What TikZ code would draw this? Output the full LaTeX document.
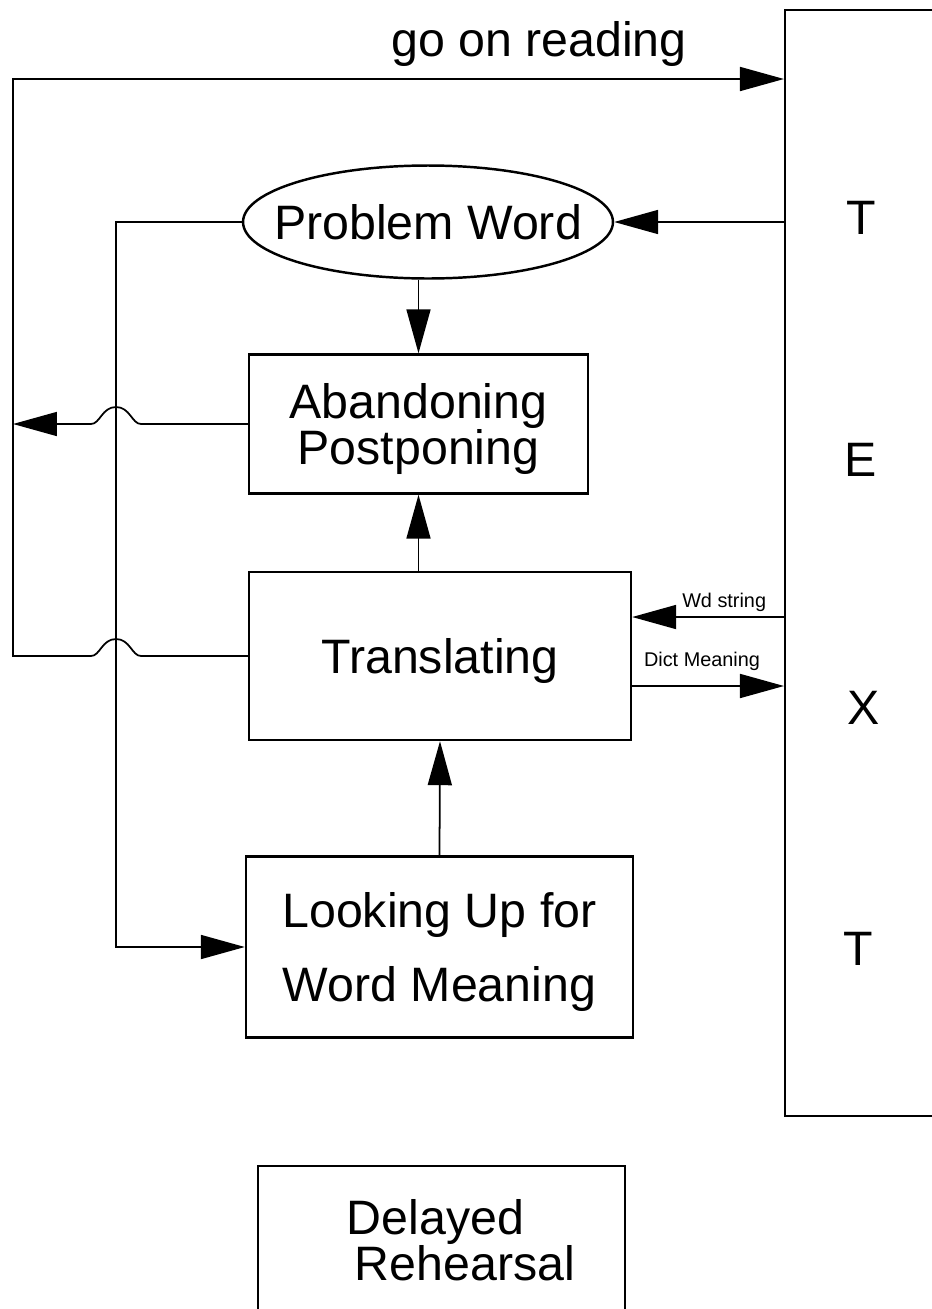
\documentclass[tikz,border=0pt]{standalone}
\usepackage{fontspec}
\setmainfont{Liberation Sans}
\usetikzlibrary{
  arrows.meta,
  positioning,
  shapes.geometric,
}

\begin{document}
\begin{tikzpicture}[
  x=0.02cm, y=-0.02cm,
  font=\fontsize{27.5}{33}\selectfont,
  stage/.style={draw, line width=1.4pt, inner sep=0pt, align=center, text depth=0pt},
  arr/.style={line width=1pt, -{Triangle[length=0.88cm, width=0.48cm]}},
  tag/.style={font=\fontsize{11.3}{13}\selectfont, inner sep=0pt},
  letter/.style={inner sep=0pt},
  hopover/.style={to path={-- ([xshift=0.5cm]\tikztotarget)
      .. controls +(-0.18cm,0) and +(0.28cm,0) .. ([yshift=0.34cm]\tikztotarget)
      .. controls +(-0.28cm,0) and +(0.18cm,0) .. ([xshift=-0.5cm]\tikztotarget)}},
]
  % Scale: 1 unit = 1px of the scan, y grows downward
  \useasboundingbox (0,0) rectangle (932,1309);

  % TEXT column, runs off the right edge
  \node[draw, line width=1.2pt, minimum width=3.5cm, minimum height=22.12cm, inner sep=0pt]
    (textcol) at (872.5,563) {};
  \node[letter] (t1) at (861,218) {T};
  \node[letter] (e1) at (861,460) {E};
  \node[letter] (x1) at (864,708) {X};
  \node[letter] (t2) at (858,949) {T};

  % Stages
  \node[draw, ellipse, line width=1.4pt, minimum width=7.4cm, minimum height=2.26cm,
        inner xsep=-1cm, inner ysep=0pt] (problem) at (428,222) {Problem Word};
  \node[stage, minimum width=6.78cm, minimum height=2.78cm, font=\fontsize{27.5}{25.6}\selectfont]
    (aband) at (418.5,424) {Abandoning\\Postponing};
  \node[stage, minimum width=7.64cm, minimum height=3.36cm]
    (transl) at (440,656) {Translating};
  \node[stage, minimum width=7.74cm, minimum height=3.62cm, font=\fontsize{27.5}{42}\selectfont]
    (lookup) at (439.5,947) {Looking Up for\\Word Meaning};
  % box is cut by the bottom of the page
  \node[stage, align=left, minimum width=7.34cm, minimum height=2.96cm, font=\fontsize{27.5}{26.7}\selectfont]
    (delayed) at (441.5,1240) {\hspace*{0.78cm}Delayed\\\hspace*{0.94cm}Rehearsal};

  % Rail and crossing points
  \coordinate (railtop) at (13,79);
  \coordinate (railbot) at (railtop |- transl.west);
  \coordinate (feed) at (116,222);
  \coordinate (crossA) at (feed |- aband.west);
  \coordinate (crossT) at (feed |- transl.west);

  % go on reading
  \draw[arr] (transl.west) to[hopover] (crossT) -- (railbot) -- (railtop) -- (railtop -| textcol.west);
  \node[anchor=base] (goon) at (539,56) {go on reading};

  \draw[arr] (aband.west) to[hopover] (crossA) -- (railtop |- aband.west);
  \draw[arr] (problem.west) -- (feed) |- (lookup.west);
  \draw[arr] (textcol.west |- problem.east) -- (problem.east);
  \draw[arr] (problem.south -| aband.north) -- (aband.north);
  \draw[arr] (transl.north -| aband.south) -- (aband.south);
  \draw[arr] (lookup.north) -- (transl.south);

  % Word string in, dictionary meaning out
  \coordinate (wdin) at ([yshift=0.78cm]transl.east);
  \coordinate (dictout) at ([yshift=-0.6cm]transl.east);
  \draw[arr] (wdin -| textcol.west) -- (wdin)
    node[tag, at start, anchor=base east, xshift=-0.34cm, yshift=0.2cm] (wdlbl) {Wd string};
  \draw[arr] (dictout) -- (dictout -| textcol.west)
    node[tag, at start, anchor=base west, xshift=0.22cm, yshift=0.4cm] (dictlbl) {Dict Meaning};

\end{tikzpicture}
\end{document}
